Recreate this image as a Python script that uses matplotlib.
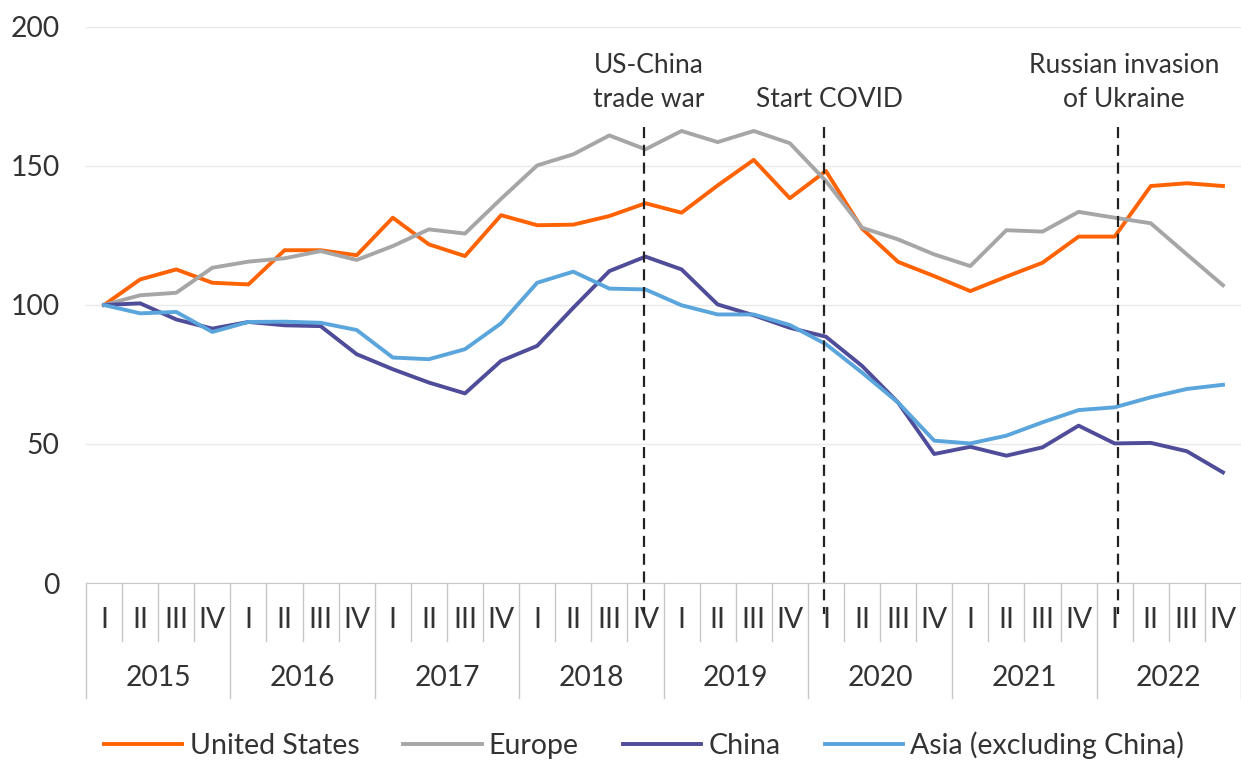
import numpy as np
import matplotlib
matplotlib.use("Agg")
import matplotlib.pyplot as plt

plt.rcParams['font.family'] = ['Lato', 'DejaVu Sans']

years = ["2015", "2016", "2017", "2018", "2019", "2020", "2021", "2022"]
quarters = ["I", "II", "III", "IV"]

united_states = [100, 109.2, 112.8, 108, 107.4, 119.7, 119.7, 117.9,
                 131.4, 121.8, 117.6, 132.3, 128.7, 128.9, 132, 136.6,
                 133.2, 143, 152.2, 138.4, 148.2, 127.5, 115.5, 110.4,
                 105, 110.2, 115.2, 124.6, 124.6, 142.8, 143.8, 142.8]
europe = [100, 103.5, 104.4, 113.4, 115.6, 116.8, 119.4, 116.2,
          121.2, 127.2, 125.7, 138.2, 150.2, 154.2, 161, 156,
          162.6, 158.6, 162.6, 158.2, 144.6, 127.8, 123.6, 118.2,
          114, 126.9, 126.4, 133.5, 131.4, 129.4, 118.2, 107.1]
china = [100, 100.6, 94.8, 91.5, 93.9, 92.7, 92.4, 82.3,
         76.9, 72.1, 68.2, 79.9, 85.3, 99, 112.2, 117.4,
         112.8, 100.2, 96.3, 91.8, 88.6, 78.1, 64.9, 46.4,
         49, 45.8, 48.8, 56.6, 50.2, 50.4, 47.4, 39.8]
asia_ex_china = [100, 97, 97.5, 90.3, 93.9, 94, 93.6, 91,
                 81.1, 80.5, 84.1, 93.4, 108, 112, 105.9, 105.6,
                 99.9, 96.6, 96.6, 92.8, 85.9, 75.7, 64.9, 51.2,
                 50.2, 53, 57.8, 62.2, 63.2, 66.8, 69.8, 71.3]

series = [
    ("United States", united_states, "#FF6200"),
    ("Europe", europe, "#A6A6A6"),
    ("China", china, "#4F4C99"),
    ("Asia (excluding China)", asia_ex_china, "#5AA5DC"),
]

# events: (position on the quarter axis, label)
events = [(14.95, "US-China\ntrade war"), (19.95, "Start COVID"),
          (28.1, "Russian invasion\nof Ukraine")]

text_col = "#333333"
sep_col = "#C8C8C8"
fs = 20.3

fig = plt.figure(figsize=(12.41, 7.61), dpi=100)
ax = fig.add_axes([86 / 1241, 178 / 761, 1155 / 1241, 556 / 761])

x = np.arange(len(years) * len(quarters))
for name, vals, col in series:
    ax.plot(x, vals, color=col, lw=2.8, label=name)

ax.set_xlim(-0.5, len(x) - 0.5)
ax.set_ylim(0, 200)
ax.set_yticks([0, 50, 100, 150, 200])
ax.yaxis.grid(True, color="#E9E9E9", lw=1)
ax.set_axisbelow(True)
ax.tick_params(axis="y", length=0, pad=19, labelsize=fs, labelcolor=text_col)
ax.set_xticks([])
for s in ["top", "right", "left"]:
    ax.spines[s].set_visible(False)
ax.spines["bottom"].set_color(sep_col)

# event markers
for pos, label in events:
    ax.plot([pos, pos], [164, -11], color="#222222", lw=1.6,
            ls=(0, (5, 3)), clip_on=False, zorder=5)
    ax.text(pos + 0.15, 169.5, label, ha="center", va="bottom", fontsize=19,
            color=text_col, linespacing=1.46)

# two-level category axis
tr = ax.get_xaxis_transform()
for i in range(len(x)):
    ax.text(i, -0.066, quarters[i % 4], transform=tr, ha="center",
            va="center", fontsize=fs, color=text_col)
for i in range(len(x) + 1):
    bottom = -0.207 if i % 4 == 0 else -0.104
    ax.plot([i - 0.5, i - 0.5], [0, bottom], transform=tr, color=sep_col,
            lw=1, clip_on=False)
for j, yr in enumerate(years):
    ax.text(j * 4 + 1.5, -0.171, yr, transform=tr, ha="center",
            va="center", fontsize=fs, color=text_col)

fig.legend(loc="center", bbox_to_anchor=(644 / 1241, 16 / 761), ncol=4,
           frameon=False, fontsize=20.5, handlelength=2.75, handletextpad=0.25,
           columnspacing=1.55, labelcolor=text_col)

fig.savefig("out.png", dpi=100)
